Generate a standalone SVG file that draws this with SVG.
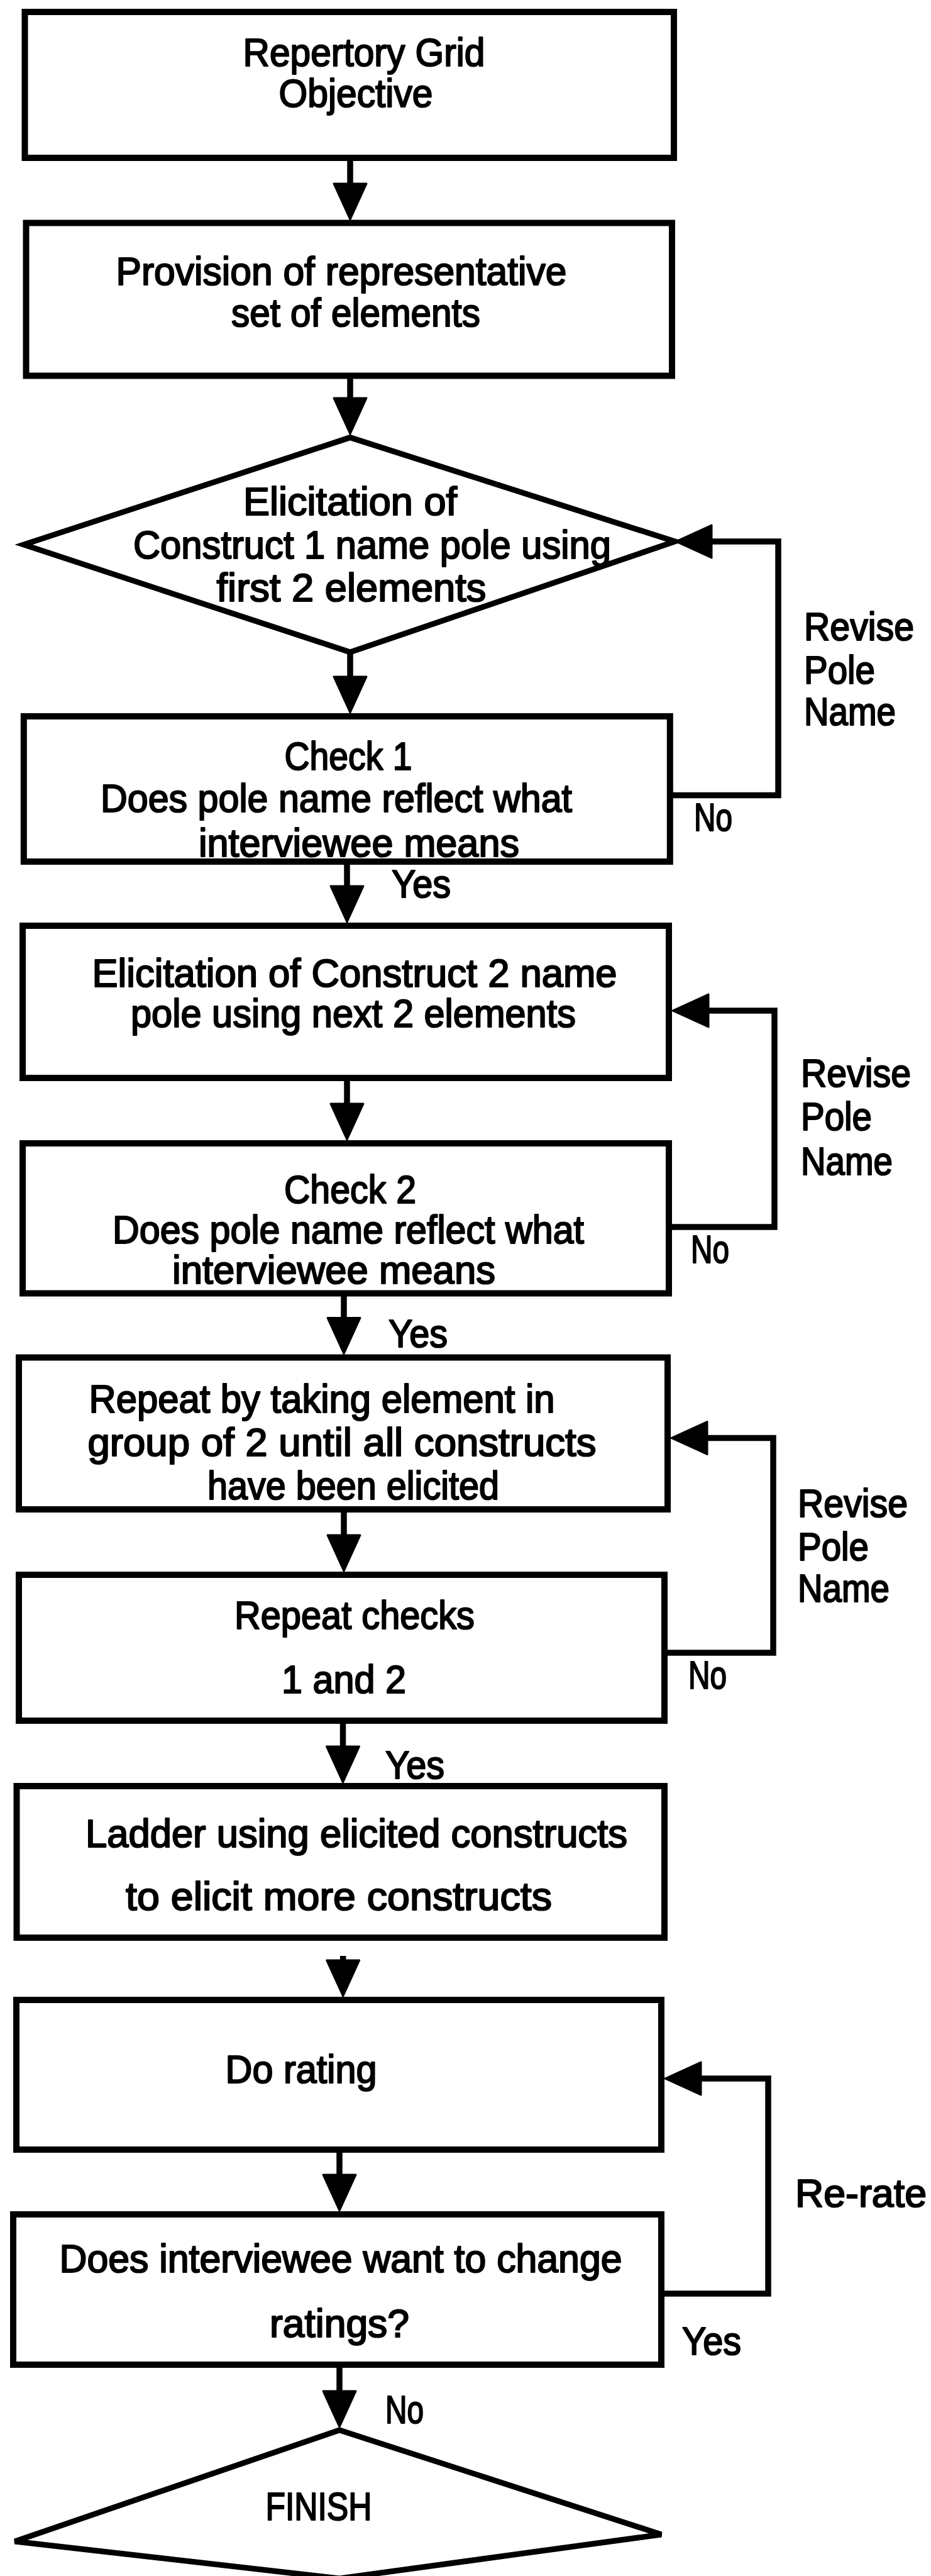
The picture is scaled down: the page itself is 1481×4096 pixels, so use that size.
<svg xmlns="http://www.w3.org/2000/svg" width="1481" height="4096" viewBox="0 0 1481 4096">
  <defs>
    <style>
      .box { fill: #fff; stroke: #000; stroke-width: 10; }
      .dia { fill: #fff; stroke: #000; stroke-width: 9; stroke-linejoin: miter; }
      .edge { fill: none; stroke: #000; stroke-width: 9.5; stroke-linejoin: miter; stroke-linecap: butt; }
      text { font-family: "Liberation Sans", Arial, Helvetica, sans-serif; font-size: 63px; fill: #000; stroke: #000; stroke-width: 2.2; stroke-linejoin: round; }
      .c { text-anchor: middle; }
    </style>
    <!-- solid triangular arrowhead; base sits on the path end, tip extends 57px beyond -->
    <marker id="arrow" markerUnits="userSpaceOnUse" markerWidth="64" markerHeight="60" refX="1" refY="26" orient="auto" overflow="visible">
      <path d="M0,0 L57,26 L0,52 Z" fill="#000" stroke="#000" stroke-width="3" stroke-linejoin="round"/>
    </marker>
  </defs>

  <rect x="0" y="0" width="1481" height="4096" fill="#fff"/>

  <!-- process steps -->
  <g id="objective">
    <rect class="box" x="39.5" y="19" width="1032.5" height="232"/>
    <text class="c" x="579" y="105" textLength="385" lengthAdjust="spacingAndGlyphs">Repertory Grid</text>
    <text class="c" x="566" y="170" textLength="245" lengthAdjust="spacingAndGlyphs">Objective</text>
  </g>

  <g id="provision">
    <rect class="box" x="41.5" y="354.5" width="1027.5" height="243"/>
    <text class="c" x="543" y="453" textLength="717" lengthAdjust="spacingAndGlyphs">Provision of representative</text>
    <text class="c" x="566" y="519" textLength="396" lengthAdjust="spacingAndGlyphs">set of elements</text>
  </g>

  <g id="elicit1">
    <polygon class="dia" points="557,695.6 1073.6,861 557,1037 37.8,866"/>
    <text class="c" x="557" y="819" textLength="340" lengthAdjust="spacingAndGlyphs">Elicitation of</text>
    <text class="c" x="592" y="888" textLength="760" lengthAdjust="spacingAndGlyphs">Construct 1 name pole using</text>
    <text class="c" x="559" y="956" textLength="429" lengthAdjust="spacingAndGlyphs">first 2 elements</text>
  </g>

  <g id="check1">
    <rect class="box" x="37.8" y="1139" width="1028" height="231"/>
    <text class="c" x="554" y="1224" textLength="203" lengthAdjust="spacingAndGlyphs">Check 1</text>
    <text class="c" x="535" y="1291" textLength="750" lengthAdjust="spacingAndGlyphs">Does pole name reflect what</text>
    <text class="c" x="571" y="1362" textLength="510" lengthAdjust="spacingAndGlyphs">interviewee means</text>
  </g>

  <g id="elicit2">
    <rect class="box" x="36" y="1472" width="1028" height="242"/>
    <text class="c" x="564" y="1569" textLength="835" lengthAdjust="spacingAndGlyphs">Elicitation of Construct 2 name</text>
    <text class="c" x="562" y="1633" textLength="708" lengthAdjust="spacingAndGlyphs">pole using next 2 elements</text>
  </g>

  <g id="check2">
    <rect class="box" x="36" y="1818" width="1028" height="238.5"/>
    <text class="c" x="557" y="1913" textLength="210" lengthAdjust="spacingAndGlyphs">Check 2</text>
    <text class="c" x="554" y="1977" textLength="750" lengthAdjust="spacingAndGlyphs">Does pole name reflect what</text>
    <text class="c" x="531" y="2041" textLength="514" lengthAdjust="spacingAndGlyphs">interviewee means</text>
  </g>

  <g id="repeat-elicit">
    <rect class="box" x="30" y="2158.5" width="1032" height="241.5"/>
    <text class="c" x="512" y="2246" textLength="741" lengthAdjust="spacingAndGlyphs">Repeat by taking element in</text>
    <text class="c" x="544" y="2315" textLength="809" lengthAdjust="spacingAndGlyphs">group of 2 until all constructs</text>
    <text class="c" x="562" y="2384" textLength="464" lengthAdjust="spacingAndGlyphs">have been elicited</text>
  </g>

  <g id="repeat-checks">
    <rect class="box" x="30" y="2504" width="1027" height="232"/>
    <text class="c" x="564" y="2590" textLength="382" lengthAdjust="spacingAndGlyphs">Repeat checks</text>
    <text class="c" x="547" y="2692" textLength="198" lengthAdjust="spacingAndGlyphs">1 and 2</text>
  </g>

  <g id="ladder">
    <rect class="box" x="26.5" y="2840" width="1030.5" height="241"/>
    <text class="c" x="567" y="2937" textLength="862" lengthAdjust="spacingAndGlyphs">Ladder using elicited constructs</text>
    <text class="c" x="539" y="3037" textLength="678" lengthAdjust="spacingAndGlyphs">to elicit more constructs</text>
  </g>

  <g id="rating">
    <rect class="box" x="26" y="3180" width="1026" height="238"/>
    <text class="c" x="479" y="3312" textLength="241" lengthAdjust="spacingAndGlyphs">Do rating</text>
  </g>

  <g id="change-ratings">
    <rect class="box" x="21" y="3521" width="1031" height="239"/>
    <text class="c" x="542" y="3613" textLength="895" lengthAdjust="spacingAndGlyphs">Does interviewee want to change</text>
    <text class="c" x="540" y="3716" textLength="222" lengthAdjust="spacingAndGlyphs">ratings?</text>
  </g>

  <g id="finish">
    <polygon class="dia" points="540,3864 1052,4030 540,4100 23.6,4041"/>
    <text class="c" x="507" y="4007" textLength="169" lengthAdjust="spacingAndGlyphs">FINISH</text>
  </g>

  <!-- flow lines, loop-backs and their labels -->
  <g id="connectors">
    <path class="edge" d="M557,251 V293" marker-end="url(#arrow)"/>
    <path class="edge" d="M557,598 V634" marker-end="url(#arrow)"/>
    <path class="edge" d="M557,1037 V1077" marker-end="url(#arrow)"/>
    <path class="edge" d="M552,1370 V1410" marker-end="url(#arrow)"/>
    <path class="edge" d="M552,1714 V1756" marker-end="url(#arrow)"/>
    <path class="edge" d="M547,2056 V2096.5" marker-end="url(#arrow)"/>
    <path class="edge" d="M547,2400 V2442" marker-end="url(#arrow)"/>
    <path class="edge" d="M545.5,2736 V2778" marker-end="url(#arrow)"/>
    <path class="edge" d="M545.7,3110 V3118" marker-end="url(#arrow)"/>
    <path class="edge" d="M540,3418 V3459" marker-end="url(#arrow)"/>
    <path class="edge" d="M540,3760 V3803" marker-end="url(#arrow)"/>

    <path class="edge" d="M1066,1264.6 H1238 V861 H1131" marker-end="url(#arrow)"/>
    <path class="edge" d="M1064,1951 H1232 V1607 H1126" marker-end="url(#arrow)"/>
    <path class="edge" d="M1057,2628 H1230 V2286.5 H1124" marker-end="url(#arrow)"/>
    <path class="edge" d="M1052,3647 H1222 V3305 H1114" marker-end="url(#arrow)"/>

    <text x="623" y="1427" textLength="94" lengthAdjust="spacingAndGlyphs">Yes</text>
    <text x="618" y="2142" textLength="94" lengthAdjust="spacingAndGlyphs">Yes</text>
    <text x="613" y="2828" textLength="94" lengthAdjust="spacingAndGlyphs">Yes</text>
    <text x="613" y="3853" textLength="61" lengthAdjust="spacingAndGlyphs">No</text>

    <text x="1104" y="1321" textLength="61" lengthAdjust="spacingAndGlyphs">No</text>
    <text x="1279" y="1018" textLength="175" lengthAdjust="spacingAndGlyphs">Revise</text>
    <text x="1279" y="1087" textLength="113" lengthAdjust="spacingAndGlyphs">Pole</text>
    <text x="1279" y="1153" textLength="146" lengthAdjust="spacingAndGlyphs">Name</text>

    <text x="1099" y="2008" textLength="61" lengthAdjust="spacingAndGlyphs">No</text>
    <text x="1274" y="1728" textLength="175" lengthAdjust="spacingAndGlyphs">Revise</text>
    <text x="1274" y="1797" textLength="113" lengthAdjust="spacingAndGlyphs">Pole</text>
    <text x="1274" y="1868" textLength="146" lengthAdjust="spacingAndGlyphs">Name</text>

    <text x="1095" y="2685" textLength="61" lengthAdjust="spacingAndGlyphs">No</text>
    <text x="1269" y="2412" textLength="175" lengthAdjust="spacingAndGlyphs">Revise</text>
    <text x="1269" y="2481" textLength="113" lengthAdjust="spacingAndGlyphs">Pole</text>
    <text x="1269" y="2547" textLength="146" lengthAdjust="spacingAndGlyphs">Name</text>

    <text x="1085" y="3744" textLength="94" lengthAdjust="spacingAndGlyphs">Yes</text>
    <text x="1265" y="3509" textLength="209" lengthAdjust="spacingAndGlyphs">Re-rate</text>
  </g>
</svg>
